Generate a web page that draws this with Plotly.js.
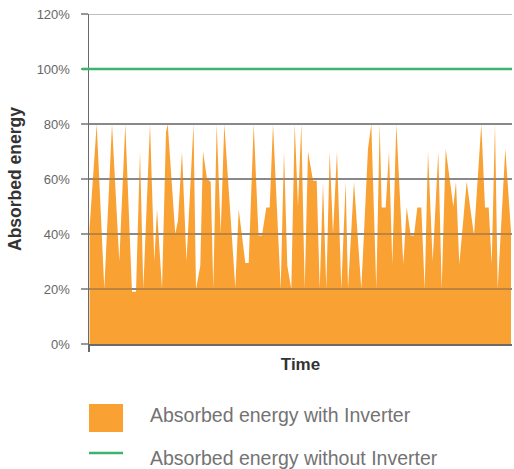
<!DOCTYPE html>
<html>
<head>
<meta charset="utf-8">
<script src="https://cdn.plot.ly/plotly-3.0.1.min.js"></script>
<style>
  html, body { margin: 0; padding: 0; background: #fff; }
  #chart { width: 514px; height: 469px; }
</style>
</head>
<body>
<div id="chart"></div>
<script>
// Time (arbitrary units along the x axis)
const time = [0.5, 7.7, 15.3, 23, 30.3, 36.3, 43, 47, 51, 54.3, 61, 65.3, 68, 73, 77, 78.7,
  86.3, 89, 93, 97.5, 104.5, 107, 111.3, 114, 118, 121.7, 124.3, 127.7, 131.7, 135.3,
  146.3, 149.7, 156.3, 159.7, 164.7, 169.5, 173, 177.3, 180.7, 184, 191.7, 195, 198.3,
  202.3, 205.7, 209, 212.3, 215.7, 219, 224, 227.7, 230.7, 234, 237.3, 240.7, 244, 248,
  252.3, 256.7, 259, 265, 272.3, 279, 282.3, 287.3, 290.7, 292.7, 296.7, 300, 303.3,
  307.3, 314.3, 317.7, 321.7, 325, 328.3, 332.3, 335.7, 339, 343.7, 349.3, 352.7, 356.7,
  364.3, 367, 370.3, 377.7, 385, 392.3, 396, 399.7, 402.7, 406, 408.7, 416.3, 422];

// Absorbed energy with inverter (%)
const withInverter = [42, 80, 20, 80, 30, 80, 19, 19, 70, 20, 80, 30, 49, 20, 77, 80,
  40, 45, 70, 30, 80, 20, 28.5, 70, 60, 59, 20, 80, 40, 80,
  20.5, 49, 29.5, 29.5, 80, 39.5, 39.5, 49.6, 49.6, 80, 20, 70, 28.5,
  20, 80, 50, 80, 20, 70, 59.4, 59.4, 20, 58.6, 20, 70, 40, 70,
  20, 59, 20, 59, 20, 71, 80, 20, 80, 49.6, 49.6, 70, 29,
  80, 29, 49.6, 39.5, 39.5, 49.6, 49.6, 20, 70, 30, 70, 20, 71,
  50, 59, 29, 59, 39.5, 80, 49.6, 49.6, 29, 80, 20, 71, 41];

// Absorbed energy without inverter (%)
const withoutTime = [0, 423];
const withoutInverter = [100, 100];

const seriesNames = ['Absorbed energy with Inverter', 'Absorbed energy without Inverter'];
const yTicks = [0, 20, 40, 60, 80, 100, 120];
const yTickLabels = ['0%', '20%', '40%', '60%', '80%', '100%', '120%'];

const ORANGE = '#F9A133';
const GREEN = '#3DB370';
const FONT = 'Liberation Sans, Arial, sans-serif';

const traces = [
  {
    x: time, y: withInverter, type: 'scatter', mode: 'lines',
    fill: 'tozeroy', fillcolor: ORANGE, line: {width: 0, color: ORANGE},
    name: seriesNames[0], hoverinfo: 'skip'
  },
  {
    x: withoutTime, y: withoutInverter, type: 'scatter', mode: 'lines',
    line: {width: 2.6, color: GREEN}, name: seriesNames[1], hoverinfo: 'skip'
  }
];

// grid lines drawn above the fill, built from the tick list
const gridShapes = yTicks.filter(v => v !== 0 && withoutInverter.indexOf(v) === -1).map(v => ({
  type: 'line', xref: 'paper', yref: 'y', x0: 0, x1: 1, y0: v, y1: v,
  line: {color: 'rgba(85,85,85,0.5)', width: 1.6}, layer: 'above'
}));

// green tick continuing the reference line across the tick mark
const greenTick = [{
  type: 'line', xref: 'paper', yref: 'y', x0: -0.0165, x1: 0,
  y0: withoutInverter[0], y1: withoutInverter[0],
  line: {color: GREEN, width: 2.6}, layer: 'above'
}];

// custom legend
const legendShapes = [
  {type: 'rect', xref: 'paper', yref: 'paper', x0: 0, x1: 0.0804, y0: -0.1818, y1: -0.2667,
   fillcolor: ORANGE, line: {width: 0}},
  {type: 'line', xref: 'paper', yref: 'paper', x0: 0, x1: 0.0804, y0: -0.3303, y1: -0.3303,
   line: {color: GREEN, width: 2.6}}
];

const legendAnnotations = seriesNames.map((name, i) => ({
  xref: 'paper', yref: 'paper', x: 0.1395, y: i === 0 ? -0.2152 : -0.344,
  xanchor: 'left', yanchor: 'middle', showarrow: false, text: name,
  font: {family: FONT, size: 19.5, color: '#737373'}
}));

const layout = {
  width: 514, height: 469,
  margin: {l: 89, r: 2, t: 14, b: 125},
  paper_bgcolor: '#fff', plot_bgcolor: '#fff',
  showlegend: false,
  font: {family: FONT},
  xaxis: {
    range: [0, 423], showgrid: false, zeroline: false,
    showline: true, linecolor: '#6a6a6a', linewidth: 1.5,
    ticks: 'outside', tickvals: [0], ticklen: 6, tickcolor: '#6a6a6a', tickwidth: 1.5,
    showticklabels: false, layer: 'above traces',
    title: {text: '<b>Time</b>', font: {family: FONT, size: 17, color: '#333'}, standoff: 7}
  },
  yaxis: {
    range: [0, 120], tickvals: yTicks, ticktext: yTickLabels,
    showgrid: true, gridcolor: '#a8a8a8', gridwidth: 1.6, zeroline: false,
    showline: true, linecolor: '#6a6a6a', linewidth: 1.5,
    ticks: 'outside', ticklen: 7, tickcolor: '#999', tickwidth: 1.5,
    ticklabelstandoff: 8,
    tickfont: {family: FONT, size: 13, color: '#666'},
    layer: 'above traces',
    title: {text: '<b>Absorbed energy</b>', font: {family: FONT, size: 17.5, color: '#333'}, standoff: 10}
  },
  shapes: gridShapes.concat(greenTick, legendShapes),
  annotations: legendAnnotations
};

Plotly.newPlot('chart', traces, layout, {staticPlot: true, displayModeBar: false});
</script>
</body>
</html>
